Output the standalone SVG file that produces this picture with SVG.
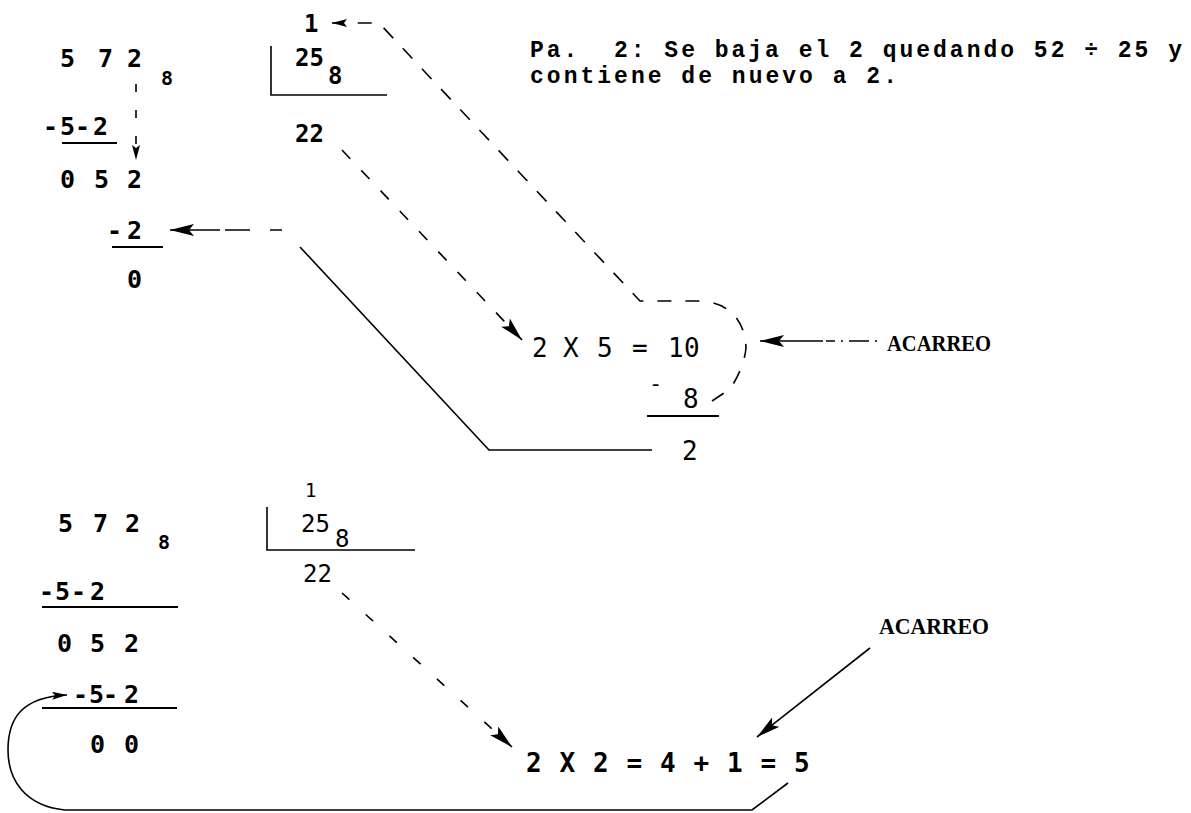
<svg xmlns="http://www.w3.org/2000/svg" width="1191" height="813" viewBox="0 0 1191 813">
<style>
.m{font-family:"DejaVu Sans Mono","Liberation Mono",monospace;fill:#000}
.b{font-weight:bold}
.tw{font-family:"Liberation Mono","Courier New",monospace;font-weight:bold;font-size:23px;fill:#000}
.sf{font-family:"Liberation Serif","Times New Roman",serif;font-weight:bold;font-size:23px;fill:#000}
.ln{stroke:#000;fill:none;stroke-width:1.6}
.ul{stroke:#000;fill:none;stroke-width:2}
</style>
<defs>
<marker id="ah" viewBox="0 0 24 12" markerWidth="24" markerHeight="12" refX="24" refY="6" orient="auto" markerUnits="userSpaceOnUse"><path d="M0,0 L24,6 L0,12 L5,6 z" fill="#000"/></marker>
<marker id="as" viewBox="0 0 15 8" markerWidth="15" markerHeight="8" refX="15" refY="4" orient="auto" markerUnits="userSpaceOnUse"><path d="M0,0 L15,4 L0,8 L3,4 z" fill="#000"/></marker>
</defs>

<g id="top-dividend">
<text class="m b" font-size="25" x="60 98 127" y="67">572</text>
<text class="m b" font-size="20" x="161" y="85">8</text>
<text class="m b" font-size="25" x="43 60 75 93" y="135">-5-2</text>
<line class="ul" x1="62" y1="143" x2="117" y2="143"/>
<text class="m b" font-size="25" x="60 94 127" y="188">052</text>
<text class="m b" font-size="25" x="107 127" y="239">-2</text>
<line class="ul" x1="112" y1="247" x2="163" y2="247"/>
<text class="m b" font-size="25" x="127" y="288">0</text>
</g>

<g id="top-divisor">
<text class="m b" font-size="24" x="304" y="32">1</text>
<text class="m b" font-size="24" x="295" y="66">25</text>
<text class="m b" font-size="24" x="328" y="84">8</text>
<path class="ln" d="M271,46 V95 H387"/>
<text class="m b" font-size="24" x="295" y="142">22</text>
</g>

<g id="explanation">
<text class="tw" x="530" y="57" textLength="652" lengthAdjust="spacing">Pa.&#160; 2: Se baja el 2 quedando 52 ÷ 25 y</text>
<text class="tw" x="530" y="83" textLength="367" lengthAdjust="spacing">contiene de nuevo a 2.</text>
</g>

<g id="top-product">
<text class="m" font-size="26" x="532 563 597 632 668 684" y="357">2X5=10</text>
<text class="m" font-size="22" x="649" y="391">-</text>
<text class="m" font-size="26" x="683" y="408">8</text>
<line class="ul" x1="647" y1="416" x2="719" y2="416"/>
<text class="m" font-size="26" x="682" y="460">2</text>
</g>

<g id="top-acarreo">
<text class="sf" x="887" y="351" textLength="104" lengthAdjust="spacingAndGlyphs">ACARREO</text>
</g>

<g id="bottom-dividend">
<text class="m b" font-size="25" x="58 93 125" y="532">572</text>
<text class="m b" font-size="20" x="158" y="549">8</text>
<text class="m b" font-size="25" x="39 55 71 90" y="600">-5-2</text>
<line class="ul" x1="42" y1="607" x2="178" y2="607"/>
<text class="m b" font-size="25" x="57 90 124" y="652">052</text>
<text class="m b" font-size="25" x="73 89 103 124" y="703">-5-2</text>
<line class="ul" x1="42" y1="708" x2="177" y2="708"/>
<text class="m b" font-size="25" x="90 124" y="753">00</text>
</g>

<g id="bottom-divisor">
<text class="m" font-size="19" x="305" y="497">1</text>
<text class="m" font-size="24" x="301" y="532">25</text>
<text class="m" font-size="24" x="335" y="547">8</text>
<path class="ln" d="M267,507 V550 H415"/>
<text class="m" font-size="24" x="303" y="582">22</text>
</g>

<g id="bottom-product">
<text class="m b" font-size="26" x="526 559.5 593 626.5 660 693.5 727 760.5 794" y="772">2X2=4+1=5</text>
</g>

<g id="bottom-acarreo">
<text class="sf" x="879" y="634" textLength="110" lengthAdjust="spacingAndGlyphs">ACARREO</text>
</g>

<g id="connectors">
<path class="ln" d="M136,84 L136,160" stroke-dasharray="8 18" marker-end="url(#as)"/>
<path class="ln" d="M282,230 L170,230" stroke-dasharray="12 20 25 5 100" marker-end="url(#ah)"/>
<path class="ln" d="M342,150 L522,340" stroke-dasharray="12 16" marker-end="url(#ah)"/>
<path class="ln" d="M300,247 L489,450 L652,450"/>
<path class="ln" d="M712,401 L730,389 Q744,368 746,348 Q745,322 728,310 Q718,302 700,301 L640,301 L379,23 L332,23" stroke-dasharray="14 14" marker-end="url(#as)"/>
<path class="ln" d="M823,341 L760,341" marker-end="url(#ah)"/>
<path class="ln" d="M877,341 L826,341" stroke-width="1" stroke-dasharray="2 6 20 6"/>
<path class="ln" d="M342,593 L512,747" stroke-dasharray="10 22" marker-end="url(#ah)"/>
<path class="ln" d="M870,648 L757,737" stroke-width="1.3" marker-end="url(#ah)"/>
<path class="ln" d="M788,783 L752,810 L65,810 C25,806 8,780 8,750 C8,718 22,697 67,695" marker-end="url(#as)"/>
</g>
</svg>
